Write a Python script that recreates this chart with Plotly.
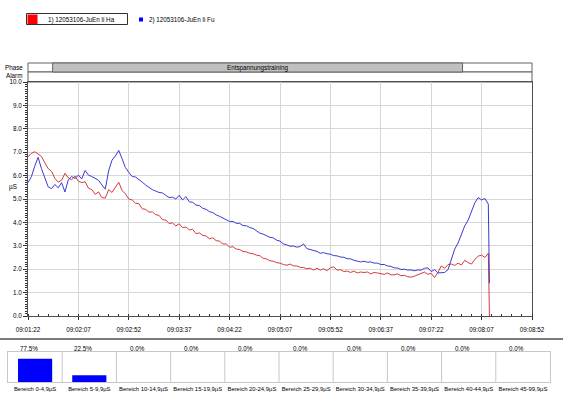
import plotly.graph_objects as go
from datetime import datetime, timedelta

# ---------------- data ----------------
series_names = ["1) 12053106-JuEn li Ha", "2) 12053106-JuEn li Fu"]
start_time = "2012-05-31 09:01:22"
end_time = "2012-05-31 09:08:52"
sample_seconds = list(range(0, 412, 3)) + [412]

ha_values = [
    6.80, 6.95, 7.02, 6.92, 6.82, 6.55, 6.30, 6.18, 5.88, 5.72,
    5.80, 6.10, 5.90, 5.82, 5.98, 5.76, 5.70, 5.74, 5.46, 5.40,
    5.20, 5.30, 5.06, 5.04, 5.40, 5.28, 5.52, 5.72, 5.36, 5.22,
    5.00, 4.96, 4.82, 4.80, 4.58, 4.56, 4.44, 4.45, 4.33, 4.30,
    4.12, 4.10, 3.95, 3.98, 3.85, 3.94, 3.78, 3.80, 3.68, 3.70,
    3.52, 3.55, 3.45, 3.42, 3.30, 3.34, 3.22, 3.20, 3.08, 3.08,
    2.94, 2.96, 2.86, 2.84, 2.76, 2.74, 2.68, 2.66, 2.60, 2.58,
    2.46, 2.44, 2.36, 2.34, 2.28, 2.26, 2.20, 2.17, 2.22, 2.14,
    2.14, 2.08, 2.07, 2.02, 2.04, 1.96, 2.04, 1.96, 2.02, 1.94,
    2.06, 2.10, 1.96, 1.98, 1.90, 1.92, 1.86, 1.92, 1.84, 1.88,
    1.86, 1.88, 1.80, 1.86, 1.84, 1.82, 1.78, 1.84, 1.76, 1.76,
    1.80, 1.72, 1.74, 1.68, 1.66, 1.70, 1.76, 1.84, 1.88, 1.78,
    1.82, 1.64, 1.86, 2.14, 2.04, 2.20, 2.22, 2.16, 2.26, 2.18,
    2.38, 2.28, 2.22, 2.42, 2.56, 2.60, 2.50, 2.68, 0.00,
]

fu_values = [
    5.70, 5.95, 6.40, 6.78, 6.30, 5.88, 5.52, 5.44, 5.62, 5.48,
    5.70, 5.30, 5.82, 5.96, 5.88, 6.02, 5.86, 6.22, 6.02, 5.96,
    5.88, 5.80, 5.60, 5.42, 6.20, 6.66, 6.84, 7.08, 6.72, 6.34,
    6.14, 5.96, 5.94, 5.84, 5.72, 5.60, 5.50, 5.40, 5.34, 5.28,
    5.26, 5.16, 5.06, 5.08, 5.00, 5.16, 4.96, 5.10, 4.88, 4.86,
    4.74, 4.72, 4.60, 4.56, 4.46, 4.42, 4.32, 4.26, 4.18, 4.12,
    4.04, 4.04, 3.96, 3.96, 3.86, 3.86, 3.78, 3.74, 3.64, 3.54,
    3.50, 3.44, 3.36, 3.34, 3.24, 3.20, 3.08, 3.04, 2.98, 2.99,
    2.94, 2.97, 3.08, 2.88, 2.84, 2.78, 2.76, 2.68, 2.71, 2.66,
    2.64, 2.58, 2.57, 2.52, 2.51, 2.45, 2.44, 2.38, 2.36, 2.31,
    2.34, 2.30, 2.31, 2.26, 2.26, 2.20, 2.20, 2.14, 2.12, 2.06,
    2.05, 1.99, 2.00, 1.96, 1.97, 1.93, 1.97, 1.96, 2.04, 2.06,
    1.90, 1.98, 1.84, 1.85, 1.86, 1.98, 2.40, 2.86, 3.12, 3.50,
    3.86, 4.10, 4.46, 4.84, 5.06, 4.96, 5.02, 4.78, 1.40,
]

phase_name = "Entspannungstraining"
phase_start = "2012-05-31 09:01:44"
phase_end = "2012-05-31 09:07:50"

bin_labels = [
    "Bereich 0-4,9µS", "Bereich 5-9,9µS", "Bereich 10-14,9µS",
    "Bereich 15-19,9µS", "Bereich 20-24,9µS", "Bereich 25-29,9µS",
    "Bereich 30-34,9µS", "Bereich 35-39,9µS", "Bereich 40-44,9µS",
    "Bereich 45-99,9µS",
]
bin_percent = [77.5, 22.5, 0.0, 0.0, 0.0, 0.0, 0.0, 0.0, 0.0, 0.0]

y_unit = "µS"

# ---------------- figure ----------------
W, H = 563, 398
FONT = "Liberation Sans, Arial, sans-serif"
FS = 6.3
RED = "#d83a3a"
BLUE = "#2a2ad2"


def px_x(p):
    return p / W


def px_y(p):
    return (H - p) / H


def label(text, x, y, xanchor="center", xref="paper"):
    return dict(x=x, y=y, xref=xref, yref="paper", text=text, xanchor=xanchor,
                yanchor="middle", showarrow=False, borderpad=0,
                font=dict(size=FS, color="black"))


base = datetime.strptime(start_time, "%Y-%m-%d %H:%M:%S")
times = [base + timedelta(seconds=s) for s in sample_seconds]

fig = go.Figure()
fig.add_trace(go.Scatter(x=times, y=ha_values, mode="lines", name=series_names[0],
                         line=dict(color=RED, width=1), xaxis="x", yaxis="y"))
fig.add_trace(go.Scatter(x=times, y=fu_values, mode="lines", name=series_names[1],
                         line=dict(color=BLUE, width=1), opacity=0.92, xaxis="x", yaxis="y"))

fig.add_trace(go.Bar(x=bin_labels, y=bin_percent, marker=dict(color="#0000ff", line=dict(width=0)),
                     width=0.63, xaxis="x2", yaxis="y2", showlegend=False))

shapes = []
annotations = []

# phase / alarm rows
shapes.append(dict(type="rect", xref="x domain", yref="paper", x0=0, x1=1,
                   y0=px_y(72), y1=px_y(63), line=dict(color="#606060", width=1),
                   fillcolor="white", layer="below"))
shapes.append(dict(type="rect", xref="x domain", yref="paper", x0=0, x1=1,
                   y0=px_y(82), y1=px_y(72), line=dict(color="#606060", width=1),
                   fillcolor="white", layer="below"))
shapes.append(dict(type="rect", xref="x", yref="paper", x0=phase_start, x1=phase_end,
                   y0=px_y(72), y1=px_y(63), line=dict(color="#606060", width=1),
                   fillcolor="#c0c0c0"))
ps = datetime.strptime(phase_start, "%Y-%m-%d %H:%M:%S")
pe = datetime.strptime(phase_end, "%Y-%m-%d %H:%M:%S")
annotations.append(label(phase_name, ps + (pe - ps) / 2, px_y(67.5), xref="x"))
annotations.append(label("Phase", px_x(13.5), px_y(67)))
annotations.append(label("Alarm", px_x(13.5), px_y(75.5)))
annotations.append(label(y_unit, px_x(12.5), px_y(187)))

# legend (custom)
shapes.append(dict(type="rect", xref="paper", yref="paper", x0=px_x(26.5), x1=px_x(127.5),
                   y0=px_y(24.5), y1=px_y(13.5), line=dict(color="#303030", width=1),
                   fillcolor="white"))
shapes.append(dict(type="rect", xref="paper", yref="paper", x0=px_x(27.5), x1=px_x(37.5),
                   y0=px_y(24), y1=px_y(14.5), line=dict(width=0), fillcolor="#ff0000"))
shapes.append(dict(type="rect", xref="paper", yref="paper", x0=px_x(139), x1=px_x(143),
                   y0=px_y(21.5), y1=px_y(17.5), line=dict(width=0), fillcolor="#0000ff"))
annotations.append(label(series_names[0], px_x(47), px_y(19.5), xanchor="left"))
annotations.append(label(series_names[1], px_x(148), px_y(19.5), xanchor="left"))

# separator
shapes.append(dict(type="line", xref="paper", yref="paper", x0=0, x1=1,
                   y0=px_y(339), y1=px_y(339), line=dict(color="#7c7c7c", width=2)))

# histogram cell dividers and percentage labels
for i in range(len(bin_labels) - 1):
    shapes.append(dict(type="line", xref="x2", yref="y2 domain", x0=i + 0.5, x1=i + 0.5,
                       y0=0, y1=1, line=dict(color="#c8c8c8", width=1)))
for lab, p in zip(bin_labels, bin_percent):
    a = label(f"{p:.1f}%", lab, px_y(348), xref="x2")
    a["xshift"] = -6
    annotations.append(a)

fig.update_layout(
    template="none",
    width=W, height=H,
    margin=dict(l=0, r=0, t=0, b=0, pad=0, autoexpand=False),
    paper_bgcolor="white", plot_bgcolor="white",
    font=dict(family=FONT, size=FS, color="black"),
    showlegend=False,
    shapes=shapes, annotations=annotations,
    xaxis=dict(
        type="date", domain=[px_x(28), px_x(532)], anchor="y", automargin=False,
        range=[start_time, end_time], tick0=start_time, dtick=45000,
        tickformat="%H:%M:%S", showgrid=True, gridcolor="#d6d6d6", gridwidth=1,
        ticks="outside", ticklen=3, tickcolor="#303030", ticklabelstandoff=4,
        minor=dict(dtick=9000, tick0=start_time, ticks="inside", ticklen=2,
                   tickcolor="#303030", showgrid=False),
        showline=True, linecolor="#505050", linewidth=1, mirror=True,
        zeroline=False, fixedrange=True,
    ),
    yaxis=dict(
        domain=[px_y(316), px_y(82)], anchor="x", range=[0, 10], tick0=0, dtick=1,
        automargin=False,
        tickformat=".1f", showgrid=True, gridcolor="#d6d6d6", gridwidth=1,
        ticks="outside", ticklen=4, tickcolor="#303030",
        minor=dict(dtick=0.1, tick0=0, ticks="outside", ticklen=2,
                   tickcolor="#303030", showgrid=False),
        showline=True, linecolor="#505050", linewidth=1, mirror=True,
        zeroline=False, fixedrange=True,
    ),
    xaxis2=dict(
        type="category", domain=[px_x(8), px_x(550)], anchor="y2", automargin=False,
        range=[-0.5, len(bin_labels) - 0.5], ticks="", showgrid=False, tickangle=0,
        showline=True, linecolor="#c8c8c8", linewidth=1, mirror=True,
        ticklabelstandoff=1, tickfont=dict(size=5.9), fixedrange=True,
    ),
    yaxis2=dict(
        domain=[px_y(382), px_y(352)], anchor="x2", range=[0, 100], automargin=False,
        showticklabels=False, ticks="", showgrid=False, zeroline=False,
        showline=True, linecolor="#c8c8c8", linewidth=1, mirror=True, fixedrange=True,
    ),
)

fig.write_html(
    "out.html",
    config=dict(displayModeBar=False),
    post_script="document.body.style.margin='0';document.body.style.overflow='hidden';",
)
